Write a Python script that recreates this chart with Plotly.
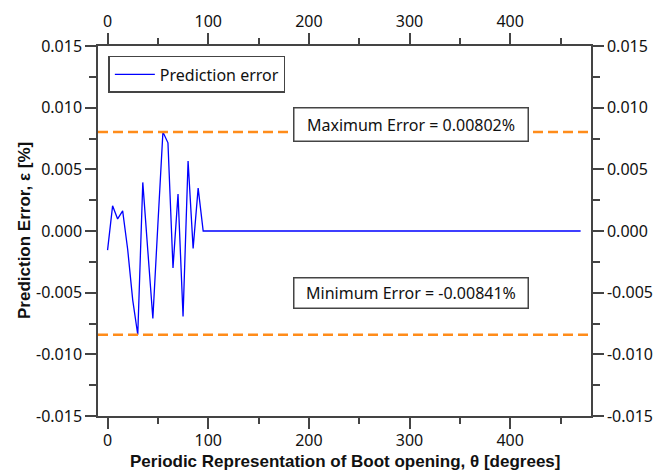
import plotly.graph_objects as go

# Data
theta = [0, 5, 10, 15, 20, 25, 30, 35, 40, 45, 50, 55, 60, 65, 70, 75, 80, 85, 90, 95, 470]
error = [-0.00155, 0.00204, 0.00098, 0.00163, -0.00150, -0.00560, -0.00841, 0.00394, -0.00160,
         -0.00709, 0.00055, 0.00802, 0.00715, -0.00299, 0.00299, -0.00693, 0.00568, -0.00141,
         0.00348, 0.0, 0.0]

x_ticks = [0, 100, 200, 300, 400]
x_tick_labels = ["0", "100", "200", "300", "400"]
y_ticks = [-0.015, -0.010, -0.005, 0.0, 0.005, 0.010, 0.015]
y_tick_labels = ["-0.015", "-0.010", "-0.005", "0.000", "0.005", "0.010", "0.015"]

x_title = "<b>Periodic Representation of Boot opening, θ [degrees]</b>"
y_title = "<b>Prediction Error, ε [%]</b>"

x_range = [-9.5, 480.3]
y_range = [-0.015, 0.015]

FONT = "Noto Sans"
TITLE_FONT = "Liberation Sans"
AXIS_COLOR = "#444444"
ORANGE = "#ff8c1a"
PLOT_H = 370
PLOT_W = 493

max_err = max(error)
min_err = min(error)

fig = go.Figure()
fig.add_trace(go.Scatter(x=theta, y=error, mode="lines", name="Prediction error",
                         line=dict(color="#0000ff", width=1.3)))
fig.add_trace(go.Scatter(x=[], y=[], xaxis="x2", yaxis="y2", showlegend=False, hoverinfo="skip"))

common = dict(showline=True, linecolor=AXIS_COLOR, linewidth=1.5, ticks="outside",
              ticklen=11, tickwidth=1.5, tickcolor=AXIS_COLOR, showgrid=False, zeroline=False,
              automargin=False,
              tickfont=dict(family=FONT, size=16, color="#111111"))

fig.update_layout(
    width=656, height=471,
    margin=dict(l=98, r=65, t=46, b=55),
    paper_bgcolor="white", plot_bgcolor="white",
    font=dict(family=FONT, size=16, color="#111111"),
    xaxis=dict(range=x_range, tickvals=x_ticks, ticktext=x_tick_labels, ticklabelstandoff=-2,
               minor=dict(ticks="outside", dtick=50, tick0=0, ticklen=6, tickwidth=1.5, tickcolor=AXIS_COLOR),
               **common),
    xaxis2=dict(range=x_range, tickvals=x_ticks, ticktext=x_tick_labels, overlaying="x",
                side="top", anchor="y",
                minor=dict(ticks="outside", dtick=50, tick0=0, ticklen=6, tickwidth=1.5, tickcolor=AXIS_COLOR),
                **common),
    yaxis=dict(range=y_range, tickvals=y_ticks, ticktext=y_tick_labels,
               minor=dict(ticks="outside", dtick=0.0025, tick0=0, ticklen=7, tickwidth=1.5, tickcolor=AXIS_COLOR),
               **common),
    yaxis2=dict(range=y_range, tickvals=y_ticks, ticktext=y_tick_labels, overlaying="y",
                side="right", anchor="x",
                minor=dict(ticks="outside", dtick=0.0025, tick0=0, ticklen=7, tickwidth=1.5, tickcolor=AXIS_COLOR),
                **common),
    legend=dict(x=0.021, y=0.973, xanchor="left", yanchor="top",
                bordercolor=AXIS_COLOR, borderwidth=1.5, bgcolor="white",
                font=dict(family=FONT, size=16), itemwidth=40),
    showlegend=True,
)

# axis titles
fig.add_annotation(xref="paper", yref="paper", x=0.5, y=(416 - 461.3) / PLOT_H,
                   xanchor="center", yanchor="middle", text=x_title, showarrow=False,
                   font=dict(family=TITLE_FONT, size=17, color="#111111"))
fig.add_annotation(xref="paper", yref="paper", x=(24 - 98) / PLOT_W, y=0.5,
                   xanchor="center", yanchor="middle", text=y_title, showarrow=False,
                   textangle=-90, font=dict(family=TITLE_FONT, size=17, color="#111111"))

for val in (max_err, min_err):
    fig.add_shape(type="line", xref="paper", x0=0, x1=1, yref="y", y0=val, y1=val,
                  line=dict(color=ORANGE, width=2.5, dash="10px,5px"))

fig.add_annotation(xref="paper", yref="paper", x=(410.5 - 98) / PLOT_W, y=(416 - 107) / PLOT_H,
                   text=f"Maximum Error = {max_err:.5f}%", showarrow=False,
                   bordercolor=AXIS_COLOR, borderwidth=1.5, borderpad=1, bgcolor="white",
                   width=231, height=30, font=dict(family=FONT, size=16))
fig.add_annotation(xref="paper", yref="paper", x=(410.8 - 98) / PLOT_W, y=(416 - 308.8) / PLOT_H,
                   text=f"Minimum Error = {min_err:.5f}%", showarrow=False,
                   bordercolor=AXIS_COLOR, borderwidth=1.5, borderpad=1, bgcolor="white",
                   width=231, height=27, font=dict(family=FONT, size=16))

fig.write_html("out.html")
